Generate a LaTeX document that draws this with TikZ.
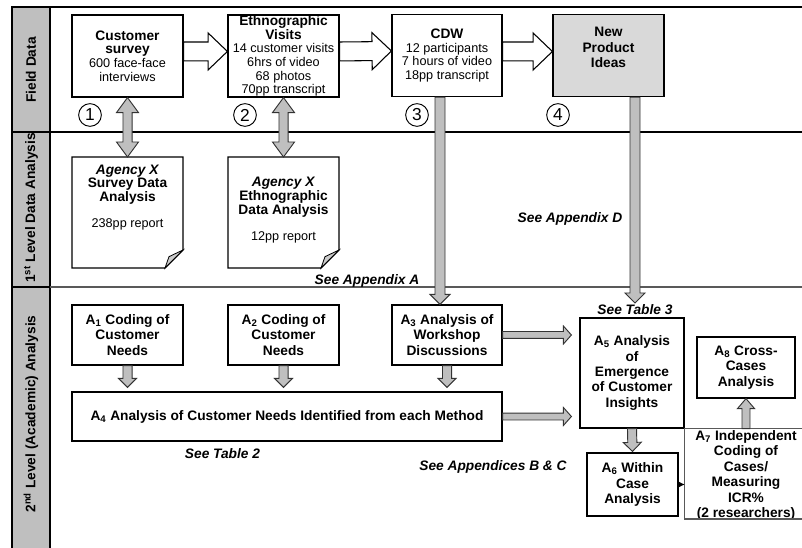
\documentclass[tikz,border=0pt]{standalone}
\usepackage{fontspec}
\setmainfont{Liberation Sans}
\usetikzlibrary{calc,arrows.meta}

\newcommand{\hdline}[1]{{\fontsize{10.3}{10}\selectfont\bfseries #1}}

\tikzset{
  fat/.style n args={3}{to path={let \p1=(\tikztostart), \p2=(\tikztotarget), \n1={atan2(\y2-\y1,\x2-\x1)} in
    ($(\p1)+(\n1+90:#1)$) -- ($(\p2)+(\n1+180:#3)+(\n1+90:#1)$) -- ($(\p2)+(\n1+180:#3)+(\n1+90:#2)$) -- (\p2)
    -- ($(\p2)+(\n1+180:#3)+(\n1-90:#2)$) -- ($(\p2)+(\n1+180:#3)+(\n1-90:#1)$) -- ($(\p1)+(\n1-90:#1)$) -- cycle}},
  dfat/.style n args={3}{to path={let \p1=(\tikztostart), \p2=(\tikztotarget), \n1={atan2(\y2-\y1,\x2-\x1)} in
    (\p1) -- ($(\p1)+(\n1:#3)+(\n1+90:#2)$) -- ($(\p1)+(\n1:#3)+(\n1+90:#1)$)
    -- ($(\p2)+(\n1+180:#3)+(\n1+90:#1)$) -- ($(\p2)+(\n1+180:#3)+(\n1+90:#2)$) -- (\p2)
    -- ($(\p2)+(\n1+180:#3)+(\n1-90:#2)$) -- ($(\p2)+(\n1+180:#3)+(\n1-90:#1)$)
    -- ($(\p1)+(\n1:#3)+(\n1-90:#1)$) -- ($(\p1)+(\n1:#3)+(\n1-90:#2)$) -- cycle}}
}

\begin{document}
\begin{tikzpicture}[x=0.75pt,y=-0.75pt,
  box/.style={draw, line width=0.9pt, fill=white, align=center, inner sep=1pt},
  fbox/.style={box, minimum width=83.25pt, minimum height=61.5pt, font=\fontsize{9.5}{10.2}\selectfont},
  abox/.style={box, font=\fontsize{10.3}{11.6}\selectfont\bfseries},
  hdtxt/.style={align=center, inner sep=0pt, font=\fontsize{10.3}{9.6}\selectfont\bfseries},
  rptxt/.style={inner sep=0pt, font=\fontsize{9.5}{11}\selectfont},
  see/.style={inner sep=1pt, font=\fontsize{10.3}{12}\selectfont\bfseries\itshape},
  band/.style={rotate=90, inner sep=0pt, font=\fontsize{10.3}{12}\selectfont\bfseries},
  num/.style={draw, circle, line width=0.7pt, minimum size=17pt, inner sep=0pt, font=\fontsize{13}{13}\selectfont},
  openarr/.style={draw, line width=0.8pt, fill=white},
  greyarr/.style={draw=black!80, line width=0.7pt, fill=gray!50},
  rule/.style={line width=0.9pt}]

	\useasboundingbox (0,0) rectangle (802,548);
	\fill[gray!50] (12,7) rectangle (50,548);
	\draw[rule] (12,548) -- (12,7) -- (802,7);
	\draw[rule] (50,7) -- (50,548);
	\draw[rule] (12,132) -- (802,132);
	\draw[rule] (12,287) -- (50,287);
	\draw[rule, black!65] (50,287) -- (802,287);

	\node[band] (lfield) at (31,70) {Field Data};
	\node[band] (lfirst) at (31,208) {1\textsuperscript{st} Level Data Analysis};
	\node[band] (lsecond) at (31,414) {2\textsuperscript{nd} Level (Academic) Analysis};

	\node[fbox] (cs) at (127.5,56) {\hdline{Customer}\\\hdline{survey}\\600 face-face\\interviews};
	\node[fbox, inner sep=0pt] (eth) at (283.5,56) {\hdline{Ethnographic}\\\hdline{Visits}\\14 customer visits\\6hrs of video\\68 photos\\70pp transcript};
	\node[fbox, minimum width=82.5pt] (cdw) at (447,55.5) {\hdline{CDW}\\12 participants\\7 hours of video\\18pp transcript};
	\node[fbox, fill=gray!30] (npi) at (608.5,55.5) {};
	\node[hdtxt, font=\fontsize{10.3}{11.6}\selectfont\bfseries] (npitxt) at (608.5,47.5) {New\\Product\\Ideas};

	\foreach \i/\x in {1/90,2/245,3/417,4/558}
		\node[num] (c\i) at (\x,115) {\i};

	\foreach \n/\x in {ag1/127.5,ag2/283.5}{
		\node[minimum width=83.25pt, minimum height=83.25pt, inner sep=0pt, outer sep=0pt] (\n) at (\x,212.5) {};
		\draw[line width=0.9pt, fill=white] (\n.north west) -- (\n.north east) -- ([yshift=13.5pt]\n.south east) -- ([xshift=-13.5pt]\n.south east) -- (\n.south west) -- cycle;
		\draw[line width=0.6pt, fill=gray!40] ([yshift=13.5pt]\n.south east) -- ([xshift=-13.5pt]\n.south east) -- ([xshift=-10.5pt,yshift=8.5pt]\n.south east) -- cycle;
	}
	\node[hdtxt] (ag1txt) at (127.5,184.5) {\textit{Agency X}\\Survey Data\\Analysis};
	\node[rptxt] (ag1rep) at (127.5,224) {238pp report};
	\node[hdtxt] (ag2txt) at (283.5,197.5) {\textit{Agency X}\\Ethnographic\\Data Analysis};
	\node[rptxt] (ag2rep) at (283.5,237) {12pp report};

	\node[abox, minimum width=83.25pt, minimum height=45pt] (a1) at (127.5,335) {A\textsubscript{1} Coding of\\Customer\\Needs};
	\node[abox, minimum width=83.25pt, minimum height=45pt] (a2) at (283.5,335) {A\textsubscript{2} Coding of\\Customer\\Needs};
	\node[abox, minimum width=82.5pt, minimum height=45pt] (a3) at (447,335) {A\textsubscript{3} Analysis of\\Workshop\\Discussions};
	\node[abox, minimum width=322.5pt, minimum height=36.75pt] (a4) at (287,416.5) {A\textsubscript{4} Analysis of Customer Needs Identified from each Method};
	\node[abox, minimum width=78pt, minimum height=82.5pt] (a5) at (632,373) {A\textsubscript{5} Analysis\\of\\Emergence\\of Customer\\Insights};
	\node[abox, minimum width=73.5pt, minimum height=45.75pt] (a8) at (746,367.5) {A\textsubscript{8} Cross-\\Cases\\Analysis};
	\node[abox, minimum width=68.25pt, minimum height=47.25pt] (a6) at (632.5,484.5) {A\textsubscript{6} Within\\Case\\Analysis};
	\node[abox, draw=none, fill=none, inner sep=0pt] (a7) at (746,475.3) {A\textsubscript{7} Independent\\Coding of\\Cases/\\Measuring\\ICR\%\\(2 researchers)};
	\coordinate (a7br) at (802,519);
	\draw[rule, black!65] (a5.south east -| a7br) -- (a5.south east) -- (a5.south east |- a7br) -- (a7br);

	\node[see] (seea) at (367,281) {See Appendix A};
	\node[see] (seed) at (570,219) {See Appendix D};
	\node[see, anchor=north] (seet3) at (635,303) {See Table 3};
	\node[see] (seet2) at (222.5,454) {See Table 2};
	\node[see] (seebc) at (493,467) {See Appendices B \& C};

	\draw[openarr] ([yshift=3.4pt]cs.east) to[fat={7.1pt}{13.9pt}{14.5pt}] ([yshift=3.4pt]eth.west);
	\draw[openarr] ([yshift=3.4pt]eth.east) to[fat={7.1pt}{13.9pt}{14.5pt}] ([yshift=3.4pt]cdw.west);
	\draw[openarr] ([yshift=3pt]cdw.east) to[fat={7.1pt}{13.9pt}{14.5pt}] ([yshift=3pt]npi.west);

	\draw[greyarr] (cs.south) to[dfat={3.4pt}{8.25pt}{11.25pt}] (ag1.north);
	\draw[greyarr] (eth.south) to[dfat={3.4pt}{8.25pt}{11.25pt}] (ag2.north);

	\draw[greyarr] ([xshift=-5.25pt]cdw.south) to[fat={3.75pt}{7.5pt}{7.5pt}] ([xshift=-5.25pt]a3.north);
	\draw[greyarr] (npi.south -| seet3.north) to[fat={3.75pt}{7.5pt}{7.5pt}] (seet3.north);
	\foreach \n in {a1,a2,a3}
		\draw[greyarr] (\n.south) to[fat={3.4pt}{6.75pt}{6.75pt}] ($(\n.south |- a4.north)+(0,-4)$);
	\draw[greyarr] (a5.south) to[fat={3.4pt}{6.75pt}{6.75pt}] ($(a6.north)+(0,-1)$);
	\draw[greyarr] (a3.east) to[fat={2.6pt}{6.75pt}{6pt}] ($(a3.east -| a5.west)+(-8,0)$);
	\draw[greyarr] (a4.east) to[fat={2.6pt}{6.75pt}{6pt}] ($(a4.east -| a5.west)+(-8,0)$);
	\draw[greyarr] (a8.south |- a5.south) to[fat={3pt}{6.4pt}{7.5pt}] (a8.south);
	\draw[-{Latex[length=4.5pt,width=4.5pt]}] (a6.east) -- (a6.east -| a5.south east);
\end{tikzpicture}
\end{document}
